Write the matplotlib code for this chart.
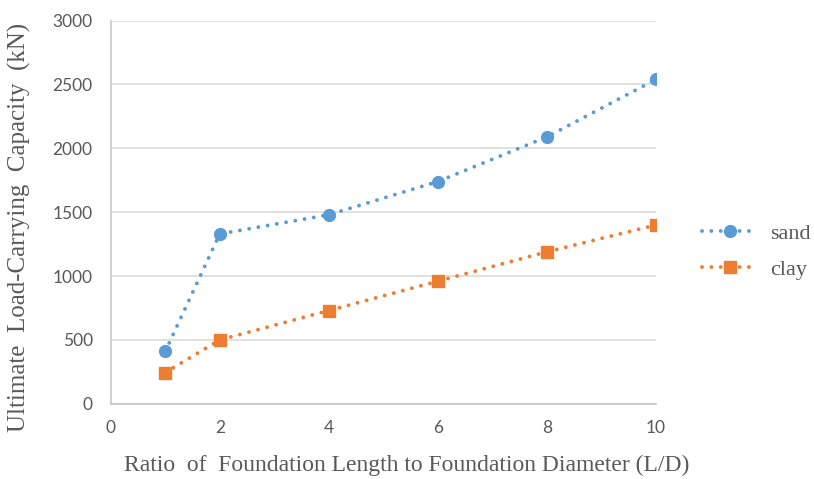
import numpy as np
import matplotlib.pyplot as plt

# Data
ld_ratio = [1, 2, 4, 6, 8, 10]
sand_capacity = [410, 1330, 1480, 1740, 2090, 2540]
clay_capacity = [245, 500, 730, 960, 1190, 1400]

sand_color = '#5b9bd5'
clay_color = '#ed7d31'
dotted = (0, (0.01, 2.4))

fig = plt.figure(figsize=(8.14, 4.79), dpi=100)
ax = fig.add_axes([0.136, 0.157, 0.670, 0.800])

ax.plot(ld_ratio, sand_capacity, color=sand_color, linestyle=dotted,
        linewidth=2.8, dash_capstyle='round', marker='o', markersize=8.5, label='sand')
ax.plot(ld_ratio, clay_capacity, color=clay_color, linestyle=dotted,
        linewidth=2.8, dash_capstyle='round', marker='s', markersize=8, label='clay')

ax.set_xlim(0, 10)
ax.set_ylim(0, 3000)
ax.set_xticks(range(0, 11, 2))
ax.set_yticks(range(0, 3001, 500))

ax.grid(axis='y', color='#d9d9d9', linewidth=1.1)
ax.set_axisbelow(True)
for side in ['top', 'right']:
    ax.spines[side].set_visible(False)
for side in ['left', 'bottom']:
    ax.spines[side].set_color('#c8c8c8')
    ax.spines[side].set_linewidth(1.2)
ax.tick_params(length=0, labelsize=12.5, labelcolor='#595959')
ax.tick_params(axis='y', pad=13)
ax.tick_params(axis='x', pad=12)
for lbl in ax.get_xticklabels() + ax.get_yticklabels():
    lbl.set_family('Lato')

ax.set_xlabel('Ratio  of  Foundation Length to Foundation Diameter (L/D)',
              family='Liberation Serif', fontsize=17, color='#595959', va='center')
ax.set_ylabel('Ultimate  Load-Carrying  Capacity  (kN)',
              family='Liberation Serif', fontsize=18, color='#595959', va='center')
ax.xaxis.set_label_coords(0.543, -0.162)
ax.yaxis.set_label_coords(-0.167, 0.46)

leg = ax.legend(loc='center left', bbox_to_anchor=(1.084, 0.397), frameon=False,
                prop={'family': 'Liberation Serif', 'size': 16}, handlelength=2.5,
                labelspacing=0.7, handletextpad=0.55, borderpad=0, borderaxespad=0)
for t in leg.get_texts():
    t.set_color('#595959')

fig.savefig('out.png', dpi=100)
